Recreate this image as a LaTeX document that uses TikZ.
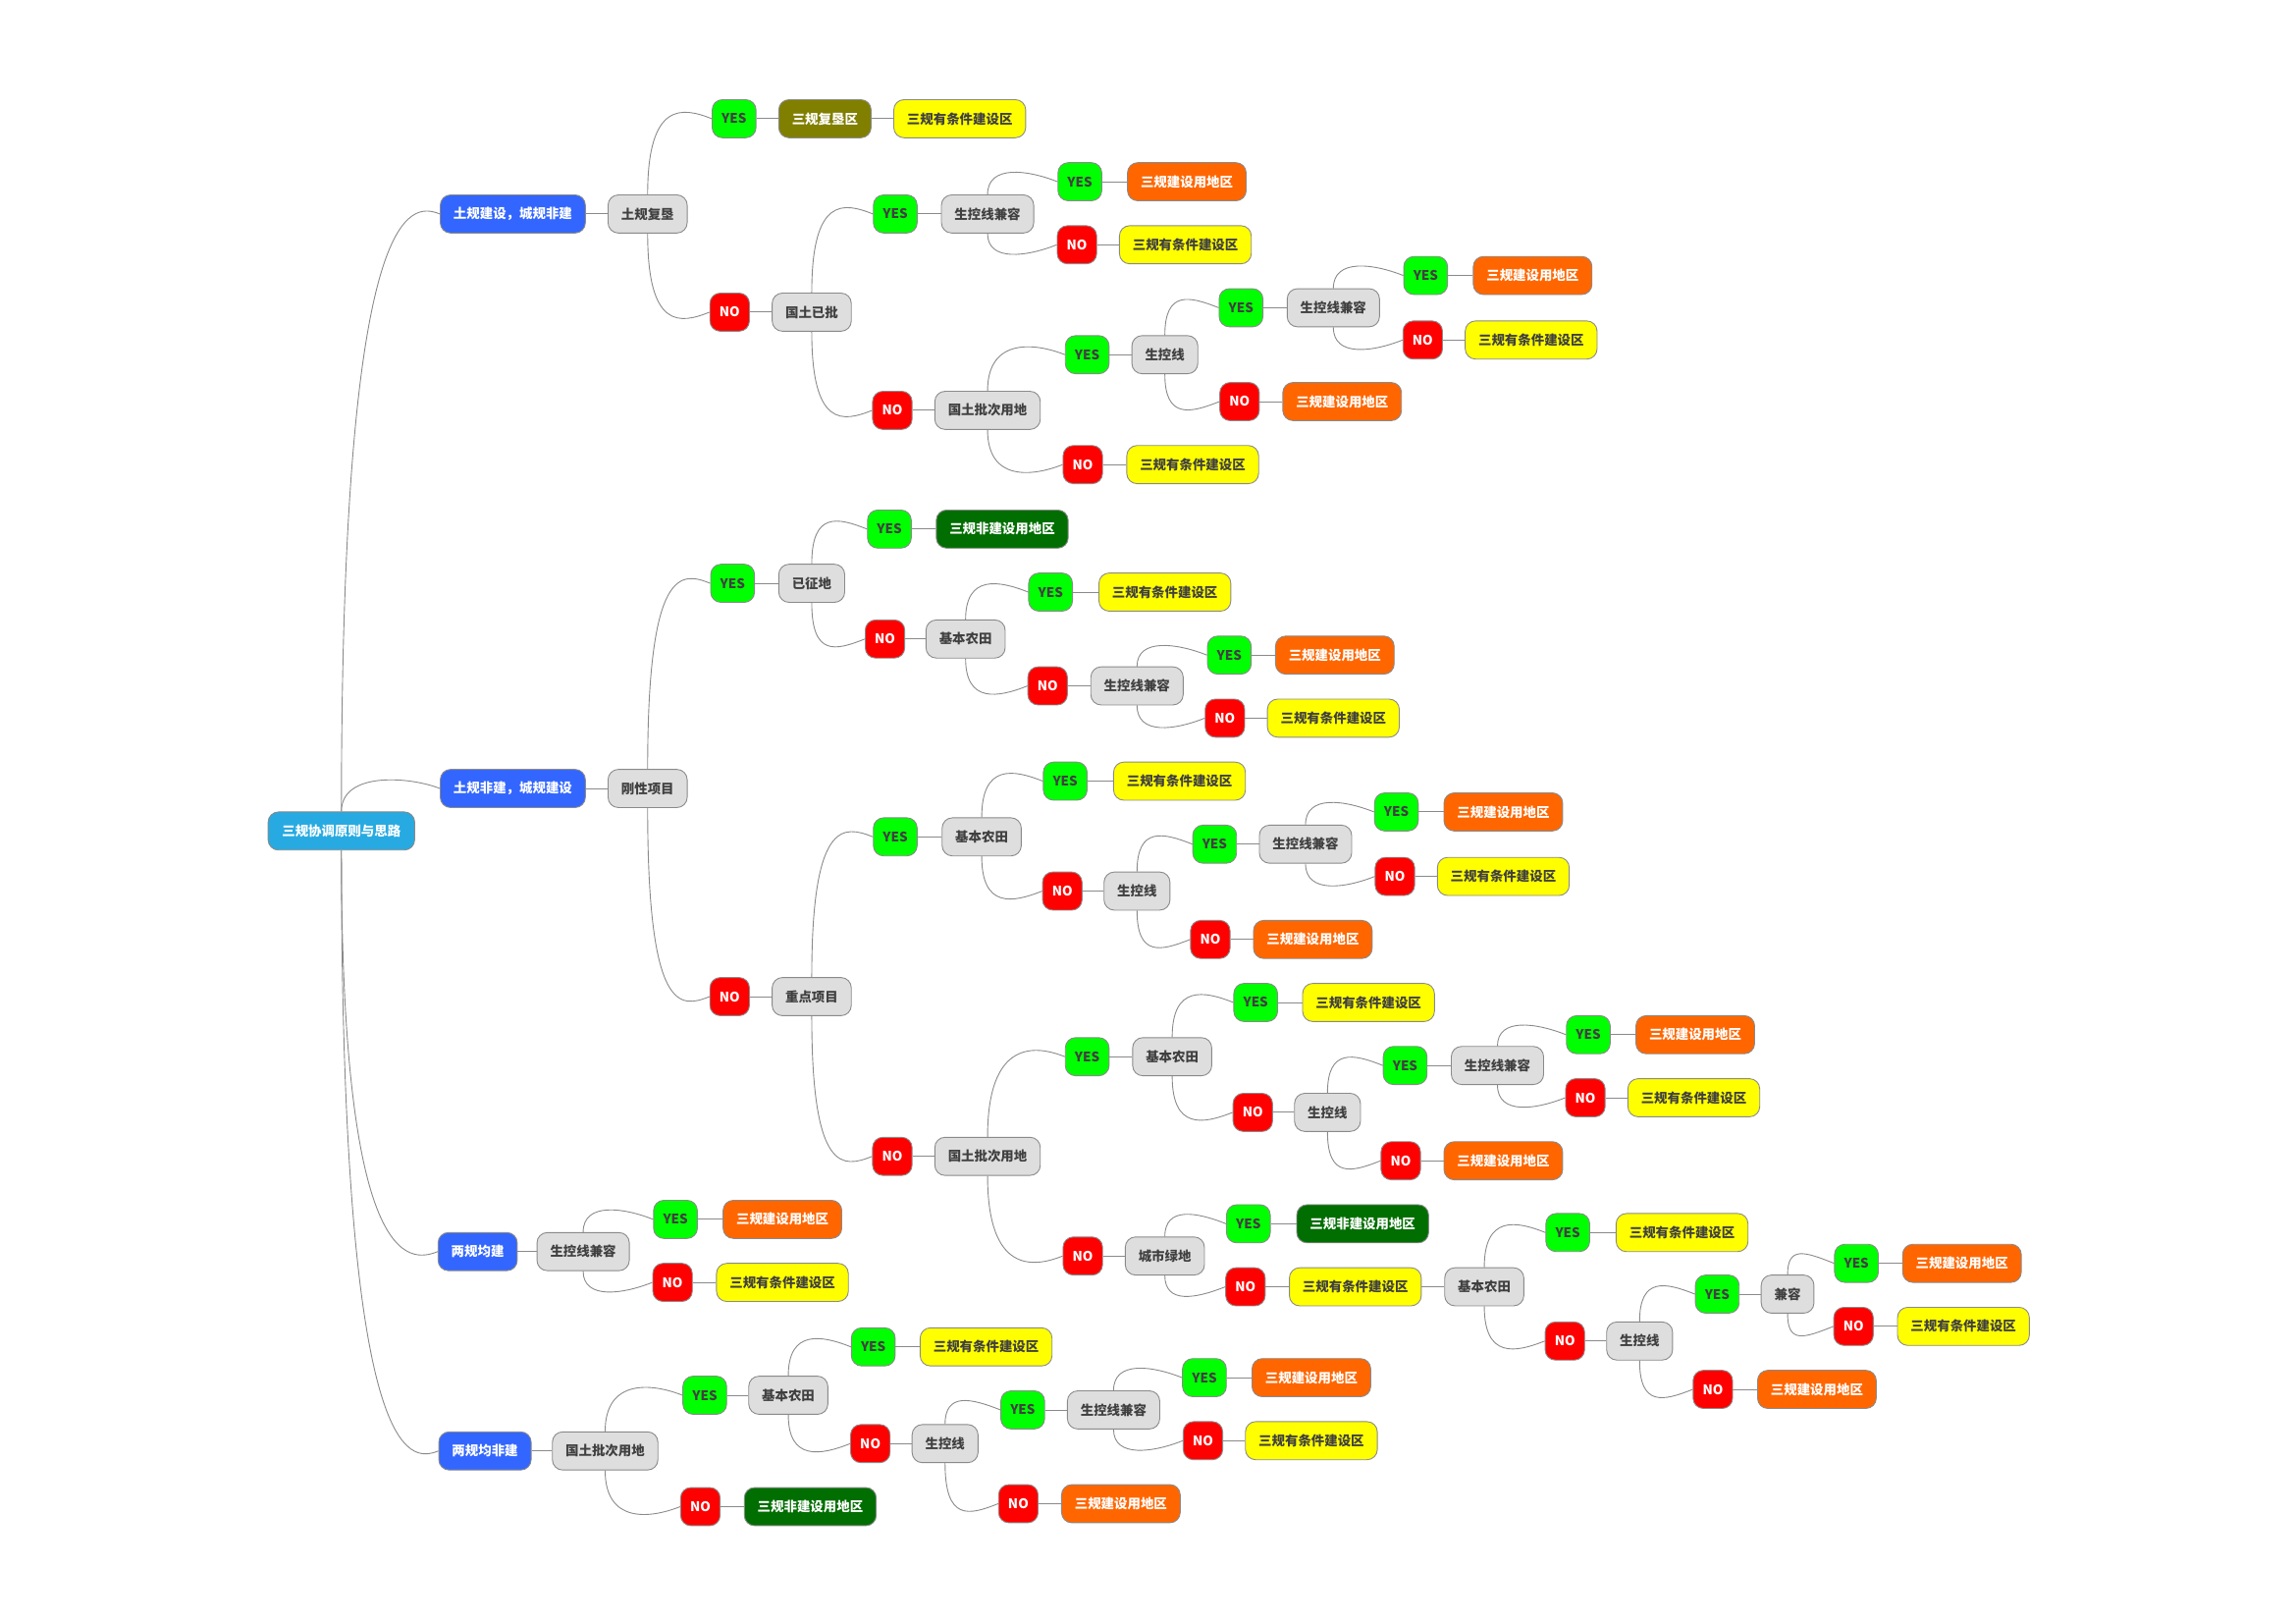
\documentclass[tikz,border=0pt]{standalone}
\usepackage{fontspec}
\setmainfont{Noto Sans CJK SC}
\usetikzlibrary{calc}

\definecolor{rootblue}{HTML}{27AAE1}
\definecolor{topicblue}{HTML}{3366FF}
\definecolor{testgrey}{HTML}{DEDEDE}
\definecolor{yesgreen}{HTML}{00FF00}
\definecolor{nored}{HTML}{FF0000}
\definecolor{condyellow}{HTML}{FFFF00}
\definecolor{buildorange}{HTML}{FF6600}
\definecolor{nonbuildgreen}{HTML}{006E00}
\definecolor{reclaimolive}{HTML}{807F00}
\definecolor{linegrey}{HTML}{8A8A8A}
\definecolor{textgrey}{HTML}{404040}

\tikzset{
  box/.style={draw=linegrey, line width=0.6pt, rounded corners=7pt, minimum height=26pt,
    inner xsep=9pt, inner ysep=0pt, font=\fontsize{9}{10}\selectfont\bfseries},
  rootbox/.style={box, fill=rootblue, text=white, minimum width=100pt},
  topicbox/.style={box, fill=topicblue, text=white},
  testbox/.style={box, fill=testgrey, text=textgrey},
  yesbox/.style={box, fill=yesgreen, text=textgrey, inner xsep=6.5pt},
  nobox/.style={box, fill=nored, text=white, inner xsep=6.5pt},
  condbox/.style={box, fill=condyellow, text=textgrey},
  buildbox/.style={box, fill=buildorange, text=white},
  nonbuildbox/.style={box, fill=nonbuildgreen, text=white},
  reclaimbox/.style={box, fill=reclaimolive, text=white},
  link/.style={draw=linegrey, line width=0.6pt}
}

\begin{document}
\begin{tikzpicture}[x=1pt,y=-1pt]
\useasboundingbox (-1,-1) rectangle (1566,1106.5);

\node[rootbox] (root) at (232,566) {三规协调原则与思路};

% 土规建设，城规非建
\node[topicbox] (A) at (349,145) {土规建设，城规非建};
\node[testbox] (A1) at (441,145) {土规复垦};
\node[yesbox] (A1y) at (500,80) {YES};
\node[reclaimbox] (A1yr) at (562,80) {三规复垦区};
\node[condbox] (A1yr2) at (654,80) {三规有条件建设区};
\node[nobox] (A1n) at (497,212) {NO};
\node[testbox] (A2) at (553,212) {国土已批};
\node[yesbox] (A2y) at (610,145) {YES};
\node[testbox] (A3) at (673,145) {生控线兼容};
\node[yesbox] (A3y) at (736,123) {YES};
\node[buildbox] (A3yr) at (809,123) {三规建设用地区};
\node[nobox] (A3n) at (734,166) {NO};
\node[condbox] (A3nr) at (808,166) {三规有条件建设区};
\node[nobox] (A2n) at (608,279) {NO};
\node[testbox] (A4) at (673,279) {国土批次用地};
\node[yesbox] (A4y) at (741,241) {YES};
\node[testbox] (A5) at (794,241) {生控线};
\node[yesbox] (A5y) at (846,209) {YES};
\node[testbox] (A6) at (909,209) {生控线兼容};
\node[yesbox] (A6y) at (972,187) {YES};
\node[buildbox] (A6yr) at (1045,187) {三规建设用地区};
\node[nobox] (A6n) at (970,231) {NO};
\node[condbox] (A6nr) at (1044,231) {三规有条件建设区};
\node[nobox] (A5n) at (845,273) {NO};
\node[buildbox] (A5nr) at (915,273) {三规建设用地区};
\node[nobox] (A4n) at (738,316) {NO};
\node[condbox] (A4nr) at (813,316) {三规有条件建设区};

% 土规非建，城规建设
\node[topicbox] (B) at (349,537) {土规非建，城规建设};
\node[testbox] (B1) at (441,537) {刚性项目};
\node[yesbox] (B1y) at (499,397) {YES};
\node[testbox] (B2) at (553,397) {已征地};
\node[yesbox] (B2y) at (606,360) {YES};
\node[nonbuildbox] (B2yr) at (683,360) {三规非建设用地区};
\node[nobox] (B2n) at (603,435) {NO};
\node[testbox] (B3) at (658,435) {基本农田};
\node[yesbox] (B3y) at (716,403) {YES};
\node[condbox] (B3yr) at (794,403) {三规有条件建设区};
\node[nobox] (B3n) at (714,467) {NO};
\node[testbox] (B4) at (775,467) {生控线兼容};
\node[yesbox] (B4y) at (838,446) {YES};
\node[buildbox] (B4yr) at (910,446) {三规建设用地区};
\node[nobox] (B4n) at (835,489) {NO};
\node[condbox] (B4nr) at (909,489) {三规有条件建设区};
\node[nobox] (B1n) at (497,679) {NO};
\node[testbox] (B5) at (553,679) {重点项目};
\node[yesbox] (B5y) at (610,570) {YES};
\node[testbox] (B6) at (669,570) {基本农田};
\node[yesbox] (B6y) at (726,532) {YES};
\node[condbox] (B6yr) at (804,532) {三规有条件建设区};
\node[nobox] (B6n) at (724,607) {NO};
\node[testbox] (B7) at (775,607) {生控线};
\node[yesbox] (B7y) at (828,575) {YES};
\node[testbox] (B8) at (890,575) {生控线兼容};
\node[yesbox] (B8y) at (952,553) {YES};
\node[buildbox] (B8yr) at (1025,553) {三规建设用地区};
\node[nobox] (B8n) at (951,597) {NO};
\node[condbox] (B8nr) at (1025,597) {三规有条件建设区};
\node[nobox] (B7n) at (825,640) {NO};
\node[buildbox] (B7nr) at (895,640) {三规建设用地区};
\node[nobox] (B5n) at (608,788) {NO};
\node[testbox] (B9) at (673,788) {国土批次用地};
\node[yesbox] (B9y) at (741,720) {YES};
\node[testbox] (B10) at (799,720) {基本农田};
\node[yesbox] (B10y) at (856,683) {YES};
\node[condbox] (B10yr) at (933,683) {三规有条件建设区};
\node[nobox] (B10n) at (854,758) {NO};
\node[testbox] (B11) at (905,758) {生控线};
\node[yesbox] (B11y) at (958,726) {YES};
\node[testbox] (B12) at (1021,726) {生控线兼容};
\node[yesbox] (B12y) at (1083,705) {YES};
\node[buildbox] (B12yr) at (1156,705) {三规建设用地区};
\node[nobox] (B12n) at (1081,748) {NO};
\node[condbox] (B12nr) at (1155,748) {三规有条件建设区};
\node[nobox] (B11n) at (955,791) {NO};
\node[buildbox] (B11nr) at (1025,791) {三规建设用地区};
\node[nobox] (B9n) at (738,856) {NO};
\node[testbox] (B13) at (794,856) {城市绿地};
\node[yesbox] (B13y) at (851,834) {YES};
\node[nonbuildbox] (B13yr) at (929,834) {三规非建设用地区};
\node[nobox] (B13n) at (849,877) {NO};
\node[condbox] (B13nr) at (924,877) {三规有条件建设区};
\node[testbox] (B14) at (1012,877) {基本农田};
\node[yesbox] (B14y) at (1069,840) {YES};
\node[condbox] (B14yr) at (1147,840) {三规有条件建设区};
\node[nobox] (B14n) at (1067,914) {NO};
\node[testbox] (B15) at (1118,914) {生控线};
\node[yesbox] (B15y) at (1171,882) {YES};
\node[testbox] (B16) at (1219,882) {兼容};
\node[yesbox] (B16y) at (1266,861) {YES};
\node[buildbox] (B16yr) at (1338,861) {三规建设用地区};
\node[nobox] (B16n) at (1264,904) {NO};
\node[condbox] (B16nr) at (1339,904) {三规有条件建设区};
\node[nobox] (B15n) at (1168,947) {NO};
\node[buildbox] (B15nr) at (1239,947) {三规建设用地区};

% 两规均建
\node[topicbox] (C) at (325,853) {两规均建};
\node[testbox] (C1) at (397,853) {生控线兼容};
\node[yesbox] (C1y) at (460,831) {YES};
\node[buildbox] (C1yr) at (533,831) {三规建设用地区};
\node[nobox] (C1n) at (458,874) {NO};
\node[condbox] (C1nr) at (533,874) {三规有条件建设区};

% 两规均非建
\node[topicbox] (D) at (330,989) {两规均非建};
\node[testbox] (D1) at (412,989) {国土批次用地};
\node[yesbox] (D1y) at (480,951) {YES};
\node[testbox] (D2) at (537,951) {基本农田};
\node[yesbox] (D2y) at (595,918) {YES};
\node[condbox] (D2yr) at (672,918) {三规有条件建设区};
\node[nobox] (D2n) at (593,984) {NO};
\node[testbox] (D3) at (644,984) {生控线};
\node[yesbox] (D3y) at (697,961) {YES};
\node[testbox] (D4) at (759,961) {生控线兼容};
\node[yesbox] (D4y) at (821,939) {YES};
\node[buildbox] (D4yr) at (894,939) {三规建设用地区};
\node[nobox] (D4n) at (820,982) {NO};
\node[condbox] (D4nr) at (894,982) {三规有条件建设区};
\node[nobox] (D3n) at (694,1025) {NO};
\node[buildbox] (D3nr) at (764,1025) {三规建设用地区};
\node[nobox] (D1n) at (477,1027) {NO};
\node[nonbuildbox] (D1nr) at (552,1027) {三规非建设用地区};

% straight links
\foreach \a/\b in {A/A1, A1y/A1yr, A1yr/A1yr2, A1n/A2, A2y/A3, A3y/A3yr, A3n/A3nr,
    A2n/A4, A4y/A5, A5y/A6, A6y/A6yr, A6n/A6nr, A5n/A5nr, A4n/A4nr,
    B/B1, B1y/B2, B2y/B2yr, B2n/B3, B3y/B3yr, B3n/B4, B4y/B4yr, B4n/B4nr,
    B1n/B5, B5y/B6, B6y/B6yr, B6n/B7, B7y/B8, B8y/B8yr, B8n/B8nr, B7n/B7nr,
    B5n/B9, B9y/B10, B10y/B10yr, B10n/B11, B11y/B12, B12y/B12yr, B12n/B12nr, B11n/B11nr,
    B9n/B13, B13y/B13yr, B13n/B13nr, B13nr/B14, B14y/B14yr, B14n/B15, B15y/B16,
    B16y/B16yr, B16n/B16nr, B15n/B15nr,
    C/C1, C1y/C1yr, C1n/C1nr,
    D/D1, D1y/D2, D2y/D2yr, D2n/D3, D3y/D4, D4y/D4yr, D4n/D4nr, D3n/D3nr, D1n/D1nr}
  \draw[link] (\a.east) -- (\b.west);

% branches going up
\foreach \a/\b in {root/A, root/B, A1/A1y, A2/A2y, A3/A3y, A4/A4y, A5/A5y, A6/A6y,
    B1/B1y, B2/B2y, B3/B3y, B4/B4y, B5/B5y, B6/B6y, B7/B7y, B8/B8y, B9/B9y, B10/B10y,
    B11/B11y, B12/B12y, B13/B13y, B14/B14y, B15/B15y, B16/B16y,
    C1/C1y, D1/D1y, D2/D2y, D3/D3y, D4/D4y}
  \draw[link] (\a.north) .. controls ($(\a.north |- \b.west)+(0,12pt)$)
    and ($(\b.west)+(-20pt,8pt)$) .. (\b.west);

% branches going down
\foreach \a/\b in {root/C, root/D, A1/A1n, A2/A2n, A3/A3n, A4/A4n, A5/A5n, A6/A6n,
    B1/B1n, B2/B2n, B3/B3n, B4/B4n, B5/B5n, B6/B6n, B7/B7n, B8/B8n, B9/B9n, B10/B10n,
    B11/B11n, B12/B12n, B13/B13n, B14/B14n, B15/B15n, B16/B16n,
    C1/C1n, D1/D1n, D2/D2n, D3/D3n, D4/D4n}
  \draw[link] (\a.south) .. controls ($(\a.south |- \b.west)+(0,-12pt)$)
    and ($(\b.west)+(-20pt,-8pt)$) .. (\b.west);

\end{tikzpicture}
\end{document}
